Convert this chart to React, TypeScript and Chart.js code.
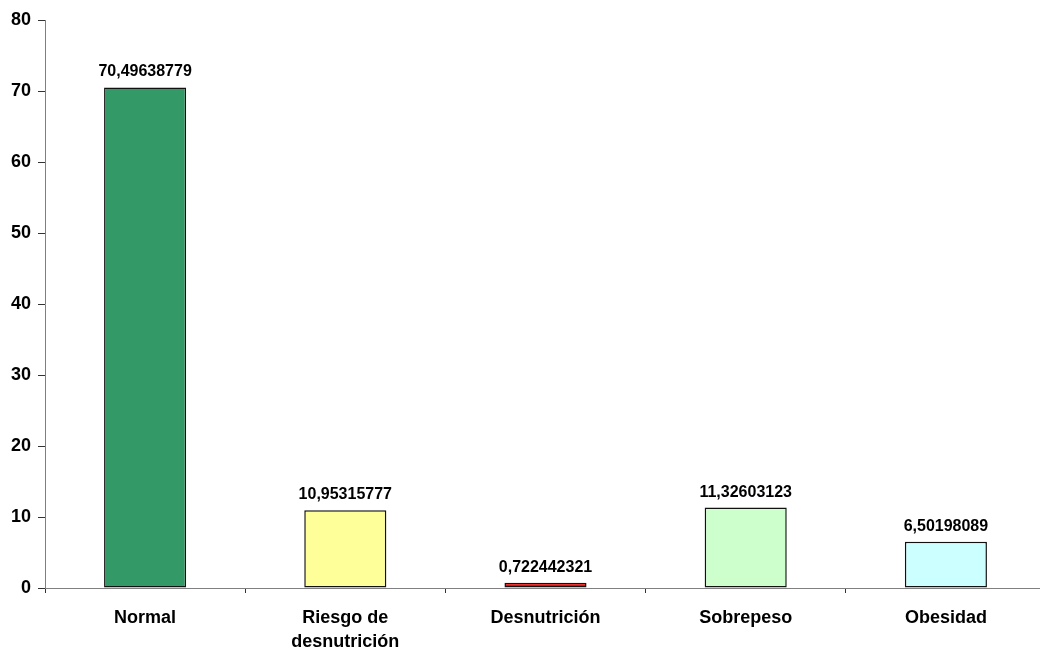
import React, { useEffect, useRef } from "react";
import { Chart, registerables } from "chart.js";

Chart.register(...registerables);

const categories: (string | string[])[] = ["Normal", ["Riesgo de", "desnutrición"], "Desnutrición", "Sobrepeso", "Obesidad"];
const values: number[] = [70.49638779, 10.95315777, 0.722442321, 11.32603123, 6.50198089];
const valueLabels: string[] = ["70,49638779", "10,95315777", "0,722442321", "11,32603123", "6,50198089"];
const barColors: string[] = ["#339966", "#FFFF99", "#FF0000", "#CCFFCC", "#CCFFFF"];
const yTicks: number[] = [0, 10, 20, 30, 40, 50, 60, 70, 80];

const FONT = "'Liberation Sans', Arial, sans-serif";

const valueLabelPlugin = {
  id: "valueLabels",
  afterDatasetsDraw(chart: any) {
    const ctx = chart.ctx;
    const meta = chart.getDatasetMeta(0);
    ctx.save();
    ctx.font = `bold 16px ${FONT}`;
    ctx.fillStyle = "#000";
    ctx.textAlign = "center";
    ctx.textBaseline = "alphabetic";
    meta.data.forEach((bar: any, i: number) => {
      ctx.fillText(valueLabels[i], bar.x, bar.y - 11);
    });
    ctx.restore();
  },
};

export default function App() {
  const ref = useRef<HTMLCanvasElement>(null);
  useEffect(() => {
    if (!ref.current) return;
    const chart = new Chart(ref.current, {
      type: "bar",
      data: {
        labels: categories as any,
        datasets: [
          {
            data: values,
            backgroundColor: barColors,
            borderColor: "#111",
            borderWidth: 1.5,
            borderSkipped: false,
            barPercentage: 0.41,
            categoryPercentage: 1.0,
          },
        ],
      },
      options: {
        responsive: false,
        animation: false,
        devicePixelRatio: 1,
        layout: { padding: { top: 20, left: 0, right: 0, bottom: 0 } },
        plugins: { legend: { display: false }, tooltip: { enabled: false } },
        scales: {
          x: {
            grid: { display: true, drawOnChartArea: false, drawTicks: true, tickLength: 5, color: "#333", offset: true },
            border: { display: true, color: "#808080", width: 1 },
            ticks: { color: "#000", font: { family: FONT, size: 18, weight: "bold", lineHeight: 1.35 }, padding: 13, maxRotation: 0, autoSkip: false },
            afterFit: (s: any) => { s.height = 63; },
          },
          y: {
            min: 0,
            max: 80,
            afterBuildTicks: (s: any) => { s.ticks = yTicks.map((v) => ({ value: v })); },
            grid: { display: true, drawOnChartArea: false, drawTicks: true, tickLength: 7, color: "#333" },
            border: { display: true, color: "#808080", width: 1 },
            ticks: { color: "#000", font: { family: FONT, size: 18, weight: "bold" }, padding: 7 },
            afterFit: (s: any) => { s.width = 45; },
          },
        },
      },
      plugins: [valueLabelPlugin],
    });
    return () => chart.destroy();
  }, []);
  return (
    <div style={{ position: "fixed", left: 0, top: 0, width: 1040, height: 651, overflow: "hidden", background: "#fff" }}>
      <canvas ref={ref} width={1046} height={651} style={{ display: "block" }} />
    </div>
  );
}
